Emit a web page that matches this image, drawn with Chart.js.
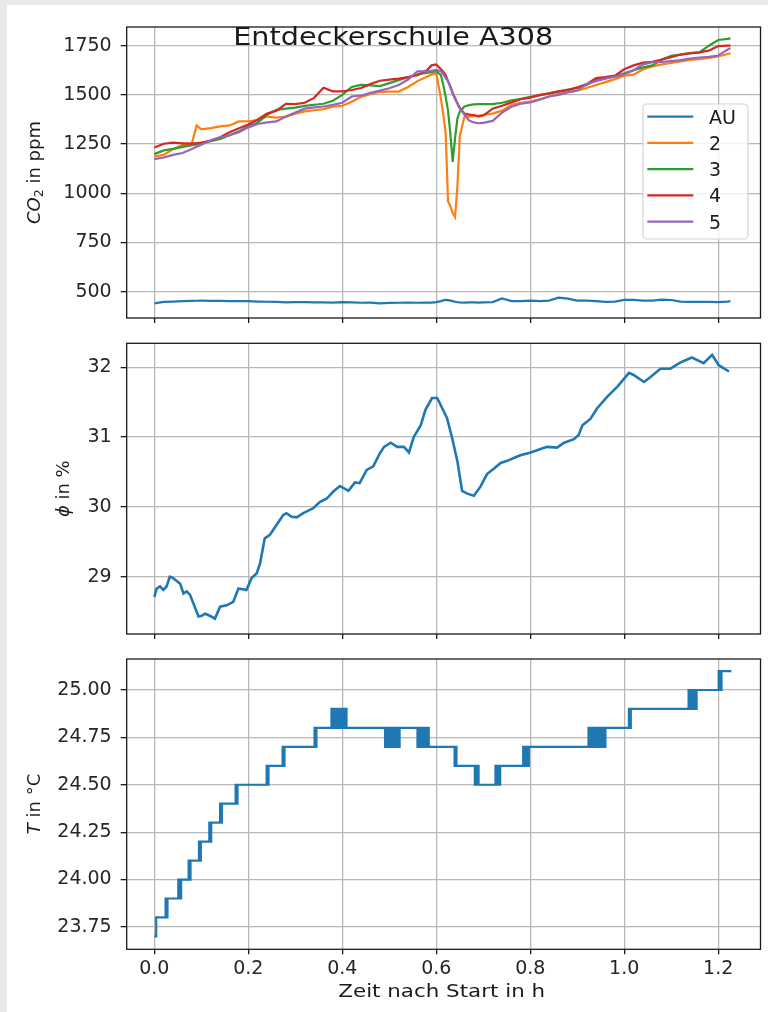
<!DOCTYPE html>
<html>
<head>
<meta charset="utf-8">
<script src="https://cdn.jsdelivr.net/npm/chart.js@4.4.1/dist/chart.umd.min.js"></script>
<style>
html,body{margin:0;padding:0;background:#e9eaec;width:768px;height:1012px;overflow:hidden;}
#blatt{position:absolute;left:7px;top:5px;width:761px;height:1007px;background:#fff;}
canvas{position:absolute;left:0;}
</style>
</head>
<body>
<div id="blatt"></div>
<canvas id="co2Bild" width="768" height="330" style="top:0px"></canvas>
<canvas id="feuchteBild" width="768" height="310" style="top:330px"></canvas>
<canvas id="tempBild" width="768" height="372" style="top:640px"></canvas>
<script>
// Messwerte Entdeckerschule A308 (Zeit nach Start in h)
const zeitCO2 = [0,0.02,0.04,0.06,0.08,0.09,0.10,0.12,0.14,0.16,0.18,0.20,0.22,0.24,0.26,0.28,0.30,0.32,0.34,0.36,0.38,0.40,0.42,0.44,0.46,0.48,0.50,0.52,0.54,0.56,0.58,0.59,0.60,0.61,0.615,0.62,0.625,0.63,0.635,0.64,0.645,0.65,0.66,0.67,0.68,0.69,0.70,0.72,0.74,0.76,0.78,0.80,0.82,0.84,0.86,0.88,0.90,0.92,0.94,0.96,0.98,1.00,1.02,1.04,1.06,1.08,1.10,1.12,1.14,1.16,1.18,1.20,1.22,1.226];

const co2AU = [441,448,450,452,453,454,455,453,453,452,452,452,450,449,448,446,447,447,446,446,445,447,446,444,445,441,443,444,445,444,445,445,447,452,456,458,457,455,452,449,447,446,445,446,446,445,446,447,466,452,452,455,452,455,470,465,455,455,452,448,450,458,458,455,455,460,458,450,448,448,448,447,450,453];
const co2S2 = [1187,1195,1225,1245,1255,1345,1325,1331,1340,1345,1365,1366,1372,1390,1385,1390,1405,1416,1422,1428,1440,1445,1465,1490,1505,1515,1517,1517,1540,1570,1592,1603,1610,1480,1400,1306,960,935,900,880,1036,1290,1390,1390,1392,1395,1399,1405,1420,1450,1460,1466,1478,1492,1505,1515,1522,1535,1550,1565,1580,1598,1603,1630,1645,1655,1662,1670,1678,1682,1688,1695,1708,1711];
const co2S3 = [1199,1218,1226,1236,1245,1249,1253,1265,1276,1295,1315,1340,1360,1399,1424,1430,1435,1444,1450,1455,1470,1500,1540,1551,1548,1545,1560,1575,1590,1605,1612,1615,1620,1600,1550,1490,1420,1300,1160,1280,1380,1415,1441,1448,1452,1453,1453,1453,1460,1472,1480,1490,1497,1508,1517,1527,1535,1550,1575,1585,1595,1610,1625,1640,1650,1680,1698,1705,1711,1716,1750,1779,1785,1787];
const co2S4 = [1233,1252,1257,1254,1252,1255,1258,1268,1285,1310,1330,1350,1375,1405,1420,1455,1453,1460,1485,1536,1518,1518,1525,1535,1555,1572,1578,1583,1590,1600,1625,1650,1655,1630,1618,1600,1570,1542,1510,1480,1458,1435,1405,1400,1398,1390,1395,1430,1445,1462,1478,1486,1500,1508,1518,1525,1538,1555,1585,1590,1598,1630,1650,1664,1668,1680,1692,1705,1712,1716,1725,1748,1750,1750];
const co2S5 = [1174,1182,1195,1205,1225,1236,1247,1270,1285,1295,1310,1335,1352,1360,1365,1390,1410,1430,1437,1441,1449,1460,1492,1497,1510,1522,1534,1550,1578,1620,1620,1622,1627,1620,1605,1585,1570,1540,1505,1485,1455,1430,1400,1370,1360,1356,1358,1368,1410,1440,1455,1462,1475,1492,1500,1512,1522,1555,1570,1582,1593,1605,1625,1655,1666,1668,1672,1677,1684,1690,1693,1700,1730,1738];
const reihenNamen = ['AU','2','3','4','5'];
const reihenFarben = ['#1f77b4','#ff7f0e','#2ca02c','#d62728','#9467bd'];

const zeitFeuchte = [0,0.005,0.012,0.019,0.026,0.033,0.040,0.055,0.062,0.069,0.076,0.083,0.094,0.101,0.108,0.118,0.129,0.140,0.154,0.168,0.179,0.196,0.207,0.218,0.225,0.235,0.246,0.260,0.274,0.281,0.292,0.303,0.317,0.338,0.352,0.367,0.381,0.395,0.413,0.427,0.437,0.452,0.466,0.480,0.489,0.503,0.517,0.531,0.542,0.552,0.567,0.577,0.591,0.602,0.613,0.623,0.634,0.645,0.655,0.666,0.680,0.694,0.708,0.723,0.737,0.751,0.765,0.779,0.801,0.822,0.836,0.857,0.872,0.893,0.903,0.911,0.928,0.942,0.964,0.985,0.999,1.010,1.020,1.042,1.056,1.077,1.098,1.120,1.144,1.169,1.187,1.201,1.223];
const feuchte = [28.71,28.83,28.86,28.81,28.86,29.00,28.98,28.90,28.76,28.79,28.74,28.62,28.43,28.44,28.47,28.44,28.40,28.57,28.59,28.64,28.83,28.81,28.98,29.05,29.19,29.55,29.60,29.74,29.88,29.91,29.86,29.85,29.91,29.98,30.07,30.12,30.22,30.30,30.23,30.35,30.34,30.53,30.58,30.77,30.86,30.92,30.86,30.86,30.78,31.00,31.17,31.39,31.56,31.56,31.41,31.27,30.98,30.65,30.23,30.19,30.16,30.29,30.47,30.55,30.63,30.66,30.70,30.74,30.78,30.83,30.86,30.85,30.92,30.97,31.03,31.17,31.26,31.41,31.58,31.72,31.83,31.92,31.89,31.79,31.86,31.98,31.98,32.07,32.14,32.06,32.18,32.03,31.94];

// Temperatur: Zeitpunkt, ab dem der Wert gilt (Sensor springt in 0.1-Schritten)
const zeitTemp = [0,0.004,0.024,0.026,0.028,0.051,0.054,0.057,0.073,0.075,0.077,0.095,0.097,0.099,0.117,0.119,0.121,0.140,0.142,0.144,0.173,0.175,0.177,0.239,0.241,0.243,0.273,0.275,0.277,0.341,0.343,0.345,
0.377,0.380,0.383,0.386,0.389,0.392,0.395,0.398,0.401,0.404,0.407,0.409,
0.491,0.494,0.497,0.500,0.503,0.506,0.509,0.512,0.515,0.518,0.521,0.522,
0.560,0.563,0.566,0.569,0.572,0.575,0.578,0.581,0.584,
0.639,0.641,0.643,
0.682,0.684,0.686,0.688,0.690,
0.726,0.729,0.732,0.734,0.736,
0.785,0.788,0.791,0.794,0.797,
0.924,0.927,0.930,0.933,0.936,0.939,0.942,0.945,0.948,0.951,0.954,0.957,0.960,
1.010,1.012,1.014,
1.137,1.140,1.143,1.146,1.149,1.152,1.154,
1.201,1.204,1.207,
1.228];
const temperatur = [23.7,23.8,23.9,23.8,23.9,24.0,23.9,24.0,24.1,24.0,24.1,24.2,24.1,24.2,24.3,24.2,24.3,24.4,24.3,24.4,24.5,24.4,24.5,24.6,24.5,24.6,24.7,24.6,24.7,24.8,24.7,24.8,
24.9,24.8,24.9,24.8,24.9,24.8,24.9,24.8,24.9,24.8,24.9,24.8,
24.7,24.8,24.7,24.8,24.7,24.8,24.7,24.8,24.7,24.8,24.7,24.8,
24.7,24.8,24.7,24.8,24.7,24.8,24.7,24.8,24.7,
24.6,24.7,24.6,
24.5,24.6,24.5,24.6,24.5,
24.6,24.5,24.6,24.5,24.6,
24.7,24.6,24.7,24.6,24.7,
24.8,24.7,24.8,24.7,24.8,24.7,24.8,24.7,24.8,24.7,24.8,24.7,24.8,
24.9,24.8,24.9,
25.0,24.9,25.0,24.9,25.0,24.9,25.0,
25.1,25.0,25.1,
25.1];

const xTicks = [0,0.2,0.4,0.6,0.8,1.0,1.2];
const co2Ticks = [500,750,1000,1250,1500,1750];
const feuchteTicks = [29,30,31,32];
const tempTicks = [23.75,24.00,24.25,24.50,24.75,25.00];

const SCHRIFT = "'DejaVu Sans', sans-serif";
const tickSchrift = { family: SCHRIFT, size: 19 };

function punkte(zeit, werte){
return zeit.map((t,i) => ({ x:t, y:werte[i] }));
}

const rahmenPlugin = {
id:'rahmen',
afterDatasetsDraw(chart){
const { ctx, chartArea:a } = chart;
ctx.save();
ctx.strokeStyle = '#1a1a1a';
ctx.lineWidth = 1.3;
ctx.strokeRect(a.left, a.top, a.right-a.left, a.bottom-a.top);
ctx.restore();
}
};

// rotierte Achsenbeschriftung aus Teilen (kursiv, tiefgestellt ...)
function gedrehtSchreiben(ctx, teile, x, yMitte){
ctx.save();
ctx.translate(x, yMitte);
ctx.rotate(-Math.PI/2);
ctx.fillStyle = '#1a1a1a';
ctx.textBaseline = 'alphabetic';
let breite = 0;
teile.forEach(t => { ctx.font = t.font; breite += ctx.measureText(t.text).width; });
let pos = -breite/2;
teile.forEach(t => {
ctx.font = t.font;
ctx.fillText(t.text, pos, t.dy || 0);
pos += ctx.measureText(t.text).width;
});
ctx.restore();
}

function breitSchreiben(ctx, text, font, xMitte, basis, zielBreite){
ctx.save();
ctx.font = font;
ctx.fillStyle = '#1a1a1a';
ctx.textBaseline = 'alphabetic';
const w = ctx.measureText(text).width;
ctx.translate(xMitte, basis);
ctx.scale(zielBreite / w, 1);
ctx.fillText(text, -w/2, 0);
ctx.restore();
}

function textPlugin(zeichnen){
return { id:'text', afterDraw(chart){ zeichnen(chart.ctx, chart); } };
}

const gitter = { color:'#b8b8b8', lineWidth:1.3, tickColor:'#1a1a1a', tickLength:6, tickWidth:1.3 };

function baueDiagramm(id, datasets, cfg){
return new Chart(document.getElementById(id), {
type:'line',
data:{ datasets },
options:{
responsive:false,
animation:false,
events:[],
layout:{ padding: cfg.rand },
plugins:{ legend:{ display:false }, tooltip:{ enabled:false } },
scales:{
x:{
type:'linear',
min:-0.0588,
max:1.290,
afterBuildTicks: s => { s.ticks = xTicks.map(v => ({ value:v })); },
afterFit: s => { s.height = cfg.xHoehe; s.paddingLeft = 0; s.paddingRight = 0; },
border:{ display:false },
grid:{ ...gitter, tickLength:5 },
ticks:{ display:cfg.xZahlen, font:tickSchrift, color:'#262626', padding:3, maxRotation:0, autoSkip:false, callback: v => v.toFixed(1) }
},
y:{
type:'linear',
min:cfg.yMin,
max:cfg.yMax,
afterBuildTicks: s => { s.ticks = cfg.yTicks.map(v => ({ value:v })); },
afterFit: s => { s.width = 126.7; s.paddingTop = 0; s.paddingBottom = 0; },
border:{ display:false },
grid:gitter,
ticks:{ font:tickSchrift, color:'#262626', padding:9, autoSkip:false, callback: cfg.yFormat }
}
}
},
plugins:[rahmenPlugin, textPlugin(cfg.text)]
});
}

const co2Reihen = [co2AU, co2S2, co2S3, co2S4, co2S5];

baueDiagramm('co2Bild',
co2Reihen.map((werte,i) => ({
label:reihenNamen[i],
data:punkte(zeitCO2, werte),
borderColor:reihenFarben[i],
borderWidth:2.2,
pointRadius:0,
order:5-i
})),
{
rand:{ left:0, right:7.5, top:27, bottom:0 },
xHoehe:12, xZahlen:false,
yMin:366.4, yMax:1845, yTicks:co2Ticks, yFormat: v => String(v),
text:(ctx) => {
gedrehtSchreiben(ctx, [
{ text:'CO', font:'italic 18px ' + SCHRIFT },
{ text:'2', font:'12.6px ' + SCHRIFT, dy:3.6 },
{ text:' in ppm', font:'18px ' + SCHRIFT }
], 39.5, 172.5);

// Legende
ctx.save();
ctx.beginPath();
ctx.roundRect(643, 104, 105, 135, 4);
ctx.fillStyle = 'rgba(255,255,255,0.8)';
ctx.fill();
ctx.strokeStyle = '#d4d4d4';
ctx.lineWidth = 1.2;
ctx.stroke();
reihenNamen.forEach((name,i) => {
const y = 116.7 + i*26.25;
ctx.strokeStyle = reihenFarben[i];
ctx.lineWidth = 2.2;
ctx.beginPath();
ctx.moveTo(647.3, y);
ctx.lineTo(693.3, y);
ctx.stroke();
ctx.fillStyle = '#1a1a1a';
ctx.font = '19px ' + SCHRIFT;
ctx.textBaseline = 'alphabetic';
ctx.fillText(name, 709, y + 6.8);
});
ctx.restore();

breitSchreiben(ctx, 'Entdeckerschule A308', '24px ' + SCHRIFT, 393.2, 45, 320);
}
});

baueDiagramm('feuchteBild',
[{
label:'phi',
data:punkte(zeitFeuchte, feuchte),
borderColor:'#1f77b4',
borderWidth:2.6,
pointRadius:0
}],
{
rand:{ left:0, right:7.5, top:13.3, bottom:0 },
xHoehe:6, xZahlen:false,
yMin:28.179, yMax:32.344, yTicks:feuchteTicks, yFormat: v => String(v),
text:(ctx) => {
gedrehtSchreiben(ctx, [
{ text:'\u03D5', font:'italic 18px ' + SCHRIFT },
{ text:' in %', font:'18px ' + SCHRIFT }
], 68.5, 158.7);
}
});

baueDiagramm('tempBild',
[{
label:'T',
data:punkte(zeitTemp, temperatur),
borderColor:'#1f77b4',
borderWidth:2.2,
pointRadius:0,
stepped:'before'
}],
{
rand:{ left:0, right:7.5, top:19, bottom:0 },
xHoehe:62.7, xZahlen:true,
yMin:23.632, yMax:25.1635, yTicks:tempTicks, yFormat: v => v.toFixed(2),
text:(ctx) => {
gedrehtSchreiben(ctx, [
{ text:'T', font:'italic 18px ' + SCHRIFT },
{ text:' in \u00B0C', font:'18px ' + SCHRIFT }
], 40, 164);
breitSchreiben(ctx, 'Zeit nach Start in h', '18px ' + SCHRIFT, 441.7, 356.7, 206.7);
}
});
</script>
</body>
</html>
